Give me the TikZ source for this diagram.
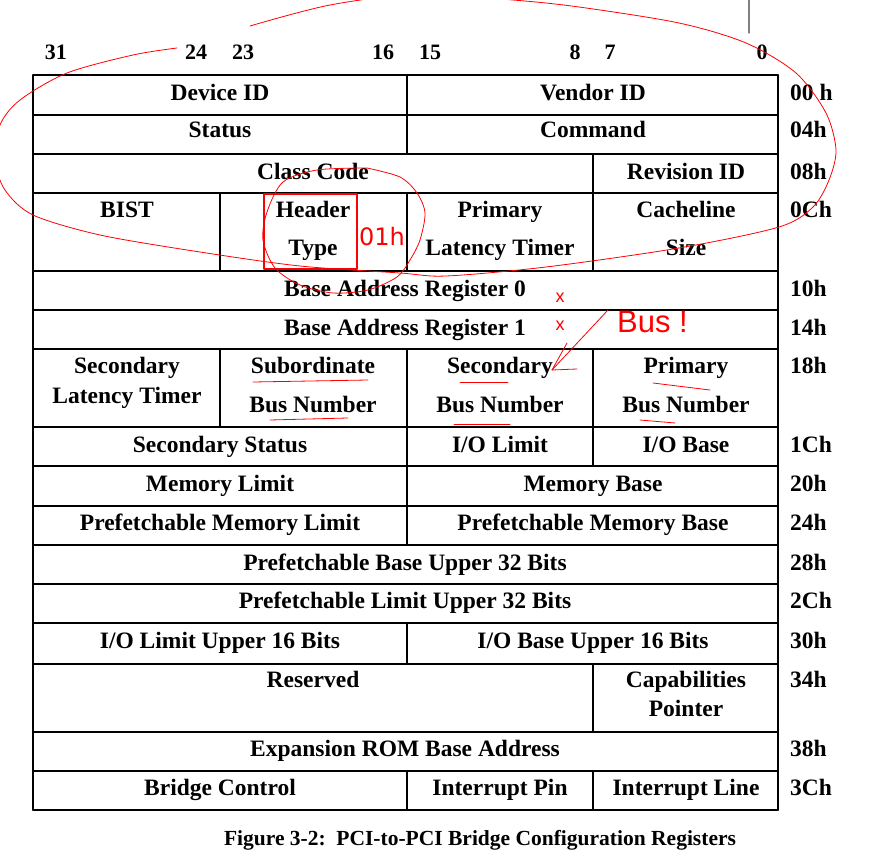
\documentclass[tikz,border=0pt]{standalone}
\usepackage{fontspec}
\setmainfont{Liberation Serif}
\newfontfamily\notefont{DejaVu Sans}
\newfontfamily\handfont{Liberation Sans}

\begin{document}
\begin{tikzpicture}[line cap=round,line join=round,x=1pt,y=-1pt,
  reg/.style={anchor=base,inner sep=0pt,font=\bfseries\fontsize{23.5}{28}\selectfont},
  bitno/.style={reg,font=\bfseries\fontsize{22}{26}\selectfont},
  offs/.style={reg,anchor=base west},
  redpen/.style={red,line width=0.8pt}]
  \clip (0,0) rectangle (892,864);
  \fill[white] (0,0) rectangle (892,864);
  \draw[gray,line width=1.3pt] (749,0) -- (749,33);
  \foreach \b/\x in {31/56,24/196,23/243,16/383,15/430,8/575,7/610,0/762}
    \node[bitno] (bit\b) at (\x,60) {\b};
  % grid
  \foreach \y in {75,115,154,193,271,310,349,427,466,506,545,584,623,664,732,771,810}
    \draw[line width=1.5pt] (33,\y) -- (778,\y);
  \draw[line width=1.5pt] (33,75) -- (33,810);
  \draw[line width=1.5pt] (778,75) -- (778,810);
  \foreach \x/\a/\b in {407/75/154,407/193/271,407/349/545,407/623/664,407/771/810,
      593/154/271,593/349/466,593/664/732,593/771/810,220/193/271,220/349/427}
    \draw[line width=1.5pt] (\x,\a) -- (\x,\b);
  % registers
  \node[reg] (devid) at (220,101) {Device ID};
  \node[reg] (vendid) at (593,101) {Vendor ID};
  \node[reg] (status) at (220,138) {Status};
  \node[reg] (command) at (593,138) {Command};
  \node[reg] (class) at (313,179) {Class Code};
  \node[reg] (revid) at (686,179) {Revision ID};
  \node[reg] (bist) at (127,217) {BIST};
  \node[reg] (hdra) at (313,217) {Header};
  \node[reg] (hdrb) at (313,255) {Type};
  \node[reg] (plata) at (500,217) {Primary};
  \node[reg] (platb) at (500,255) {Latency Timer};
  \node[reg] (cla) at (686,217) {Cacheline};
  \node[reg] (clb) at (686,255) {Size};
  \node[reg] (bar0) at (405,296) {Base Address Register 0};
  \node[reg] (bar1) at (405,335) {Base Address Register 1};
  \node[reg] (slata) at (127,373) {Secondary};
  \node[reg] (slatb) at (127,403) {Latency Timer};
  \node[reg] (suba) at (313,373) {Subordinate};
  \node[reg] (subb) at (313,412) {Bus Number};
  \node[reg] (seca) at (500,373) {Secondary};
  \node[reg] (secb) at (500,412) {Bus Number};
  \node[reg] (pria) at (686,373) {Primary};
  \node[reg] (prib) at (686,412) {Bus Number};
  \node[reg] (secst) at (220,452) {Secondary Status};
  \node[reg] (iolim) at (500,452) {I/O Limit};
  \node[reg] (iobase) at (686,452) {I/O Base};
  \node[reg] (memlim) at (220,491) {Memory Limit};
  \node[reg] (membase) at (593,491) {Memory Base};
  \node[reg] (pmemlim) at (220,530) {Prefetchable Memory Limit};
  \node[reg] (pmembase) at (593,530) {Prefetchable Memory Base};
  \node[reg] (pbaseup) at (405,570) {Prefetchable Base Upper 32 Bits};
  \node[reg] (plimup) at (405,608) {Prefetchable Limit Upper 32 Bits};
  \node[reg] (iolimup) at (220,648) {I/O Limit Upper 16 Bits};
  \node[reg] (iobaseup) at (593,648) {I/O Base Upper 16 Bits};
  \node[reg] (resvd) at (313,687) {Reserved};
  \node[reg] (capa) at (686,687) {Capabilities};
  \node[reg] (capb) at (686,716) {Pointer};
  \node[reg] (rombase) at (405,756) {Expansion ROM Base Address};
  \node[reg] (brctl) at (220,795) {Bridge Control};
  \node[reg] (intpin) at (500,795) {Interrupt Pin};
  \node[reg] (intline) at (686,795) {Interrupt Line};
  % offsets
  \foreach \o/\y in {00 h/101,04h/138,08h/179,0Ch/217,10h/296,14h/335,18h/373,1Ch/452,
      20h/491,24h/530,28h/570,2Ch/608,30h/648,34h/687,38h/756,3Ch/795}
    \node[offs] (off\y) at (790,\y) {\o};
  \node[reg,font=\bfseries\fontsize{21.5}{26}\selectfont] (caption) at (480,845)
    {Figure 3-2:\ \ PCI-to-PCI Bridge Configuration Registers};
  % red notes
  \draw[redpen] plot[smooth] coordinates {(177,48) (133,55) (67,73) (20,100) (0,125) (-5,160)
    (5,190) (33,215) (100,235) (200,252) (300,266) (400,273) (446,276) (546,267) (679,248)
    (779,227) (813,207) (829,180) (836,150) (826,113) (796,73) (746,43) (679,23) (579,7)
    (513,0) (420,-6) (330,5) (250,26)};
  \draw[redpen] plot[smooth] coordinates {(367,168) (400,177) (417,193) (425,213) (420,240)
    (410,260) (397,277) (368,290) (333,293) (300,285) (275,268) (263,240) (267,212)
    (283,182) (317,170) (367,168)};
  \draw[red,line width=1.3pt] (264,194) rectangle (357,269);
  \node[red,anchor=base west,inner sep=0pt,font=\notefont\fontsize{24}{28}\selectfont]
    (typeval) at (359,245) {01h};
  \node[red,inner sep=0pt,font=\handfont\fontsize{18}{20}\selectfont] (xa) at (560,298) {x};
  \node[red,inner sep=0pt,font=\handfont\fontsize{18}{20}\selectfont] (xb) at (560,326) {x};
  \node[red,anchor=base west,inner sep=0pt,font=\handfont\fontsize{31}{34}\selectfont]
    (busnote) at (617,332) {Bus !};
  \coordinate (tip) at (552,370);
  \draw[redpen] (608,310) -- (tip) -- (577,369);
  \draw[redpen] (tip) -- (567,343);
  \draw[redpen] (253,382) -- (368,380);
  \draw[redpen] (270,420) -- (348,418);
  \draw[redpen] (460,382) -- (508,382);
  \draw[redpen] (454,424) -- (510,424);
  \draw[redpen] (653,383) -- (710,390);
  \draw[redpen] (640,420) -- (675,423);
\end{tikzpicture}
\end{document}
